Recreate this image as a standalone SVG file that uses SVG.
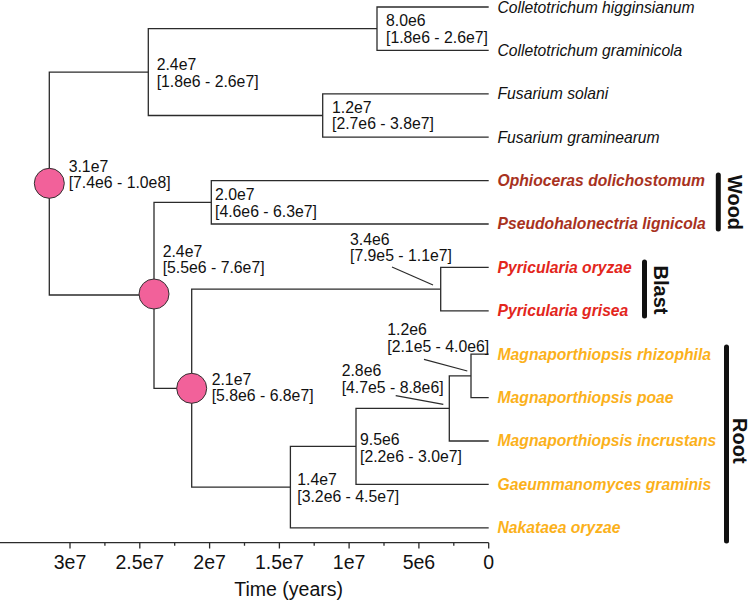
<svg xmlns="http://www.w3.org/2000/svg" width="750" height="600" viewBox="0 0 750 600">
<style>
text{font-family:"Liberation Sans",Arial,sans-serif;}
.br{fill:none;stroke:#2b2b2b;stroke-width:1.3;}
.nd{fill:#f2619a;stroke:#333;stroke-width:1;}
.lb{font-size:15.8px;fill:#111;}
.tip{font-size:15.7px;font-style:italic;}
.plain{fill:#111;}
.wood{fill:#a8321e;font-weight:bold;}
.blast{fill:#e3261c;font-weight:bold;}
.root{fill:#fbb11b;font-weight:bold;}
.grp{font-size:20px;font-weight:bold;fill:#111;text-anchor:middle;}
.bar{stroke:#111;stroke-width:5;stroke-linecap:round;}
.ax{fill:none;stroke:#2b2b2b;stroke-width:1.3;}
.axl{font-size:19.5px;fill:#111;text-anchor:middle;}
.ld{stroke:#2b2b2b;stroke-width:1.2;}
</style>
<g id="connectors">
<path class="br" d="M148.3,72.2 H49.3 V295 H154"/>
<path class="br" d="M377,28.7 H148.3 V115.5 H322.7"/>
<path class="br" d="M488.7,7 H377 V50.4 H488.7"/>
<path class="br" d="M488.7,93.8 H322.7 V137.2 H488.7"/>
<path class="br" d="M211.3,202.3 H154 V388.3 H191.7"/>
<path class="br" d="M488.7,180.6 H211.3 V224 H488.7"/>
<path class="br" d="M440.7,289.1 H191.7 V487.1 H290.4"/>
<path class="br" d="M488.7,267.4 H440.7 V310.8 H488.7"/>
<path class="br" d="M356,446.35 H290.4 V527.8 H488.7"/>
<path class="br" d="M449.3,408.3 H356 V484.4 H488.7"/>
<path class="br" d="M471,375.9 H449.3 V441 H488.7"/>
<path class="br" d="M488.7,354.2 H471 V397.6 H488.7"/>
<line class="ld" x1="392" y1="267" x2="433" y2="285"/>
<line class="ld" x1="395.7" y1="395.7" x2="443.3" y2="404.3"/>
<line class="ld" x1="424" y1="359.3" x2="467.3" y2="371"/>
</g>
<g id="node-root">
<circle class="nd" cx="49.3" cy="183.3" r="15"/>
<text class="lb" x="68.7" y="171.5">3.1e7</text>
<text class="lb" x="68.7" y="188">[7.4e6 - 1.0e8]</text>
</g>
<g id="node-a">
<text class="lb" x="156.7" y="70">2.4e7</text>
<text class="lb" x="156.7" y="86.5">[1.8e6 - 2.6e7]</text>
</g>
<g id="node-coll">
<text class="lb" x="386" y="26">8.0e6</text>
<text class="lb" x="386" y="42.5">[1.8e6 - 2.6e7]</text>
</g>
<g id="node-fus">
<text class="lb" x="332" y="112.5">1.2e7</text>
<text class="lb" x="332" y="129">[2.7e6 - 3.8e7]</text>
</g>
<g id="node-b">
<circle class="nd" cx="154" cy="294" r="15"/>
<text class="lb" x="162.7" y="256.5">2.4e7</text>
<text class="lb" x="162.7" y="273">[5.5e6 - 7.6e7]</text>
</g>
<g id="node-wood">
<text class="lb" x="215" y="200">2.0e7</text>
<text class="lb" x="215" y="216.5">[4.6e6 - 6.3e7]</text>
</g>
<g id="node-c">
<circle class="nd" cx="191.7" cy="388.3" r="15"/>
<text class="lb" x="211.7" y="385">2.1e7</text>
<text class="lb" x="211.7" y="401">[5.8e6 - 6.8e7]</text>
</g>
<g id="node-blast">
<text class="lb" x="350" y="245">3.4e6</text>
<text class="lb" x="350" y="261">[7.9e5 - 1.1e7]</text>
</g>
<g id="node-14">
<text class="lb" x="297.3" y="485">1.4e7</text>
<text class="lb" x="297.3" y="501.5">[3.2e6 - 4.5e7]</text>
</g>
<g id="node-95">
<text class="lb" x="360" y="445">9.5e6</text>
<text class="lb" x="360" y="461.5">[2.2e6 - 3.0e7]</text>
</g>
<g id="node-28">
<text class="lb" x="341.7" y="376">2.8e6</text>
<text class="lb" x="341.7" y="392.5">[4.7e5 - 8.8e6]</text>
</g>
<g id="node-12">
<text class="lb" x="387.3" y="335">1.2e6</text>
<text class="lb" x="387.3" y="351.5">[2.1e5 - 4.0e6]</text>
</g>
<g id="tips">
<text class="tip plain" x="497.5" y="12.8">Colletotrichum higginsianum</text>
<text class="tip plain" x="497.5" y="55.7">Colletotrichum graminicola</text>
<text class="tip plain" x="497.5" y="99.1">Fusarium solani</text>
<text class="tip plain" x="497.5" y="142.5">Fusarium graminearum</text>
<text class="tip wood" x="497.5" y="185.9">Ophioceras dolichostomum</text>
<text class="tip wood" x="497.5" y="229.3">Pseudohalonectria lignicola</text>
<text class="tip blast" x="497.5" y="272.7">Pyricularia oryzae</text>
<text class="tip blast" x="497.5" y="316.1">Pyricularia grisea</text>
<text class="tip root" x="497.5" y="359.5">Magnaporthiopsis rhizophila</text>
<text class="tip root" x="497.5" y="402.9">Magnaporthiopsis poae</text>
<text class="tip root" x="497.5" y="446.3">Magnaporthiopsis incrustans</text>
<text class="tip root" x="497.5" y="489.7">Gaeummanomyces graminis</text>
<text class="tip root" x="497.5" y="533.1">Nakataea oryzae</text>
</g>
<g id="group-wood">
<line class="bar" x1="718.3" y1="175" x2="718.3" y2="229"/>
<text class="grp" transform="translate(727.5,202.5) rotate(90)">Wood</text>
</g>
<g id="group-blast">
<line class="bar" x1="644.5" y1="262" x2="644.5" y2="316"/>
<text class="grp" transform="translate(653.5,290) rotate(90)">Blast</text>
</g>
<g id="group-root">
<line class="bar" x1="726.5" y1="347" x2="726.5" y2="541"/>
<text class="grp" transform="translate(733,440.8) rotate(90)">Root</text>
</g>
<g id="axis">
<path class="ax" d="M0,542.7 H488.7 M70,542.7 v5.7 M104.9,542.7 v3 M139.8,542.7 v5.7 M174.7,542.7 v3 M209.6,542.7 v5.7 M244.5,542.7 v3 M279.4,542.7 v5.7 M314.2,542.7 v3 M349.1,542.7 v5.7 M384,542.7 v3 M418.9,542.7 v5.7 M453.8,542.7 v3 M488.7,542.7 v5.7"/>
<text class="axl" x="70" y="569.3">3e7</text>
<text class="axl" x="139.8" y="569.3">2.5e7</text>
<text class="axl" x="209.6" y="569.3">2e7</text>
<text class="axl" x="279.4" y="569.3">1.5e7</text>
<text class="axl" x="349.1" y="569.3">1e7</text>
<text class="axl" x="418.9" y="569.3">5e6</text>
<text class="axl" x="488.7" y="569.3">0</text>
<text class="axl" x="288.7" y="595.5">Time (years)</text>
</g>
</svg>
